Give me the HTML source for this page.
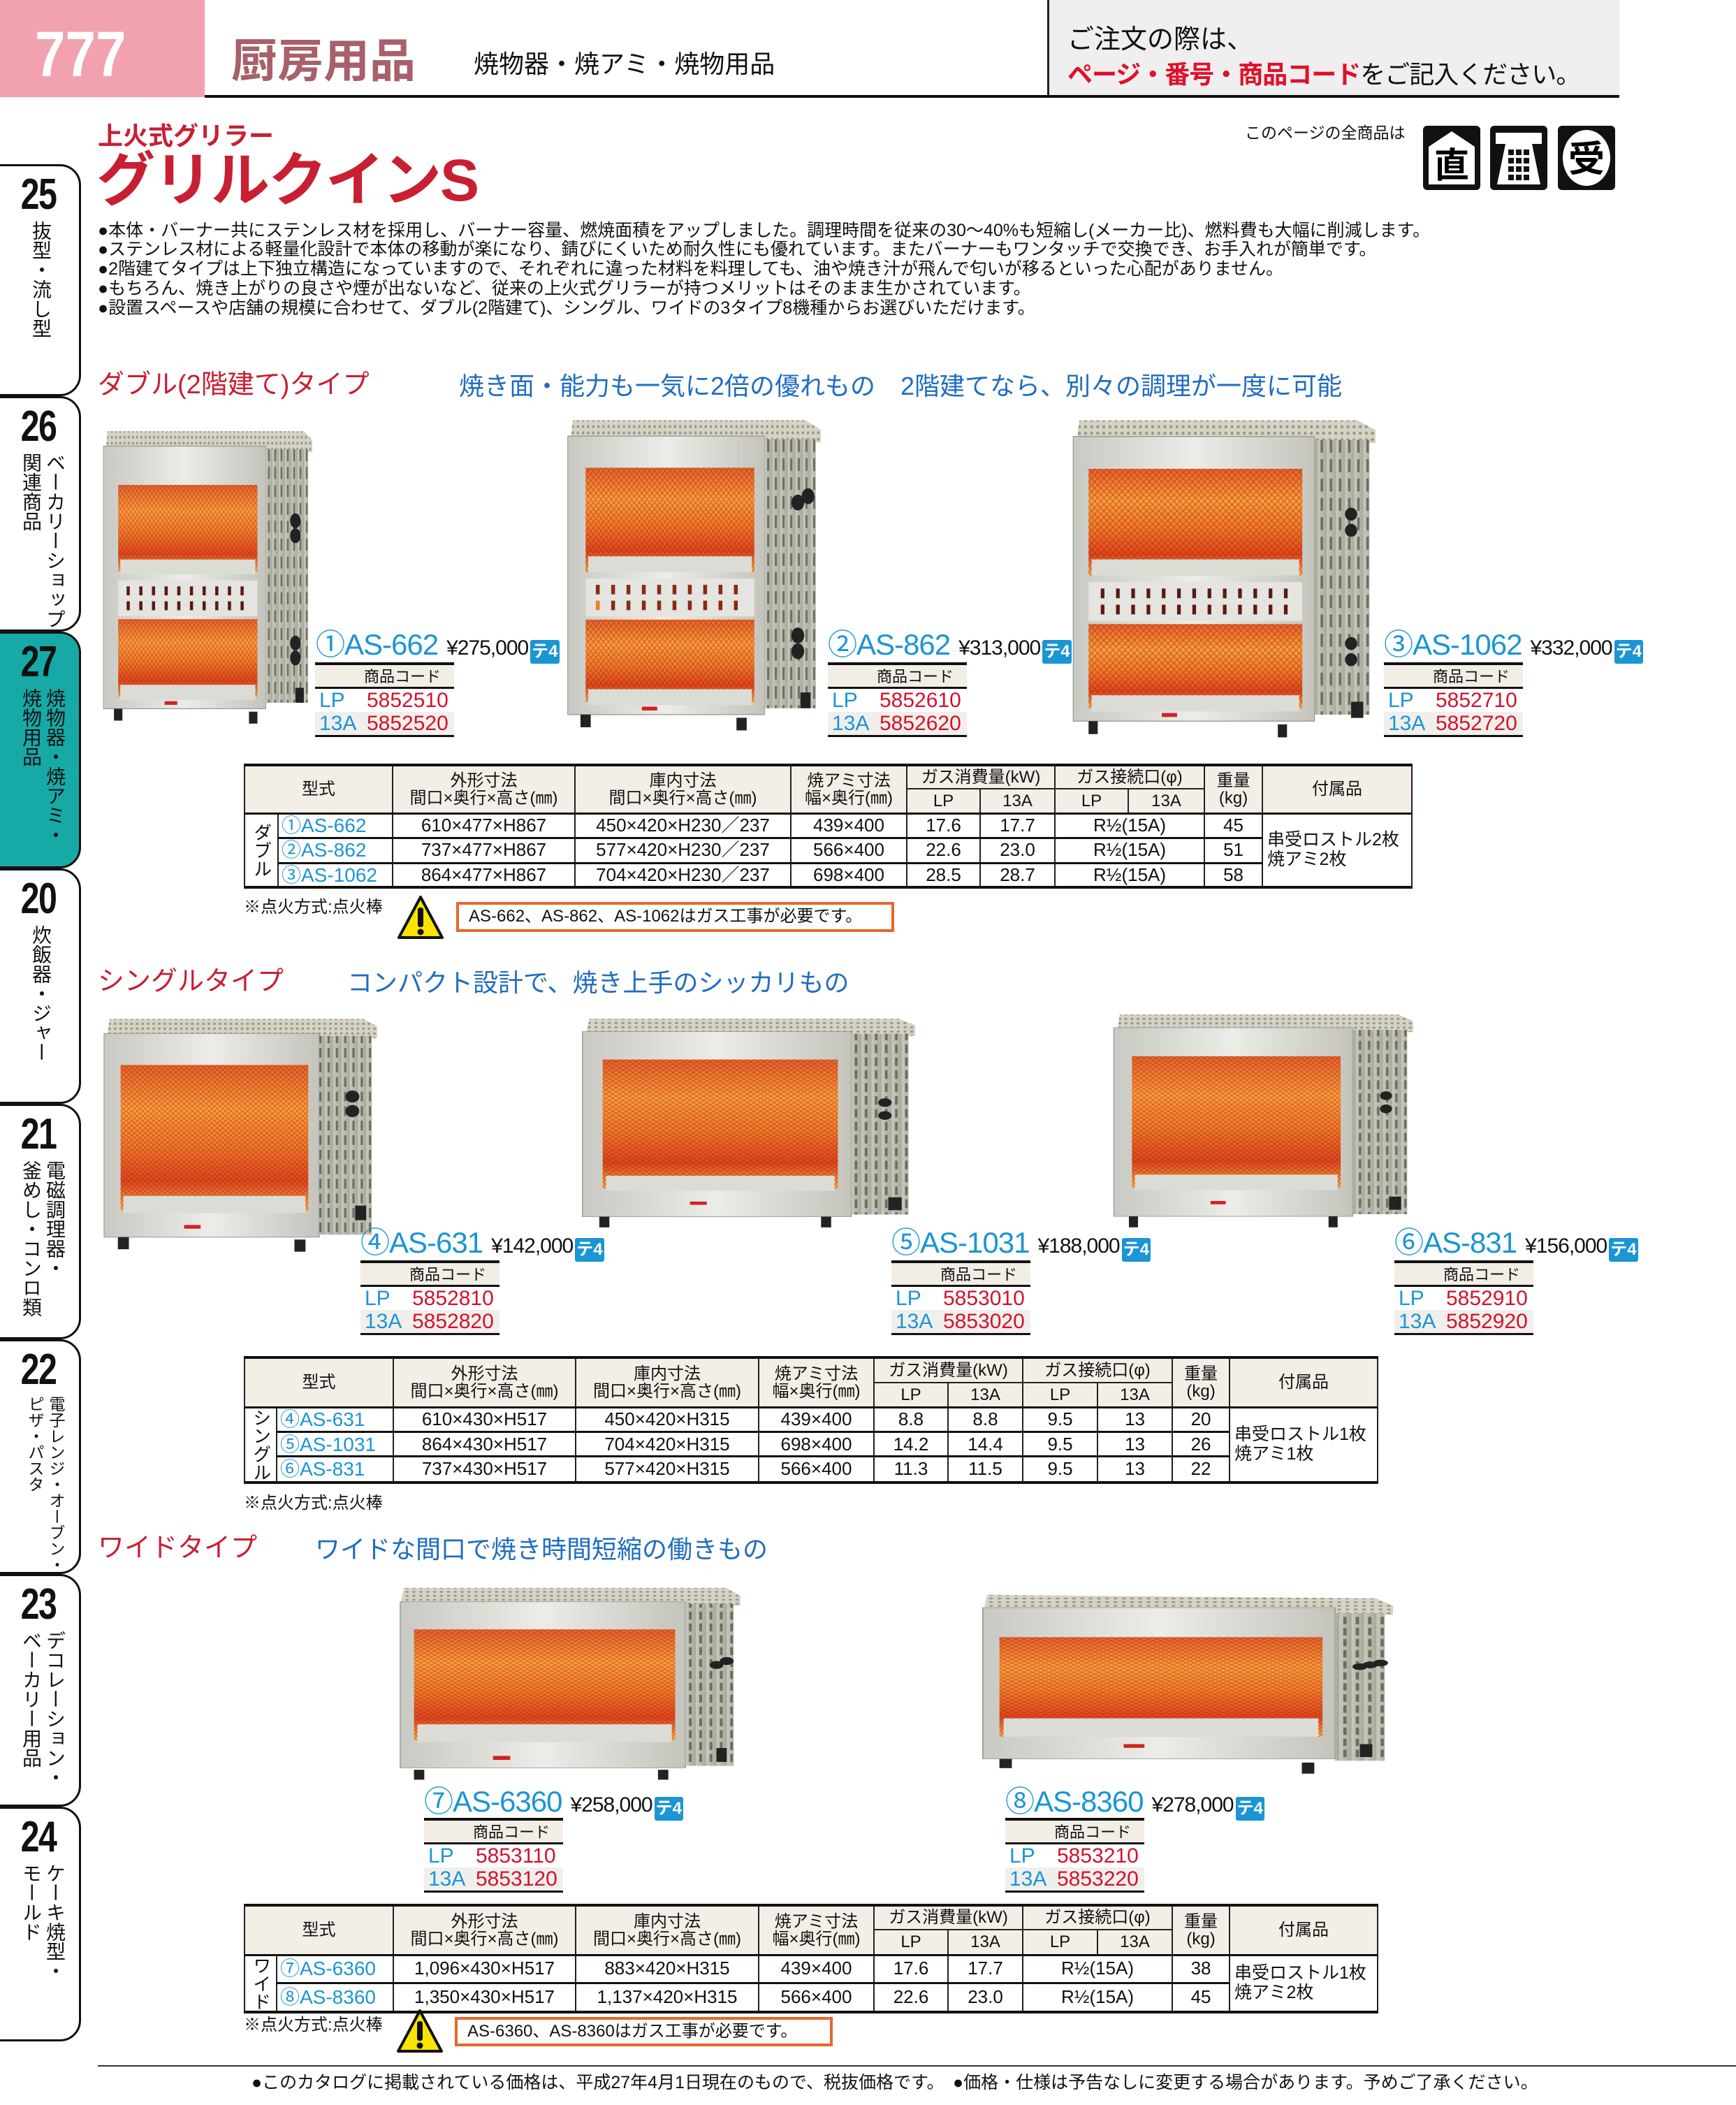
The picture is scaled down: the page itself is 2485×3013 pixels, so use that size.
<!DOCTYPE html>
<html><head><meta charset="utf-8">
<style>
*{margin:0;padding:0;box-sizing:border-box}
body{width:2485px;height:3013px;position:relative;background:#fff;font-family:"Liberation Sans","Noto Sans CJK JP",sans-serif;color:#111;overflow:hidden}
.a{position:absolute;white-space:nowrap}
.tab{position:absolute;left:-6px;width:122px;border:3px solid #111;border-radius:0 30px 30px 0;background:#fff}
.tab .n{position:absolute;top:10px;left:0;width:116px;text-align:center;font-weight:bold;font-size:62px;line-height:62px;transform:scaleX(.78);letter-spacing:-2px}
.tab .t{position:absolute;top:78px;right:18px;height:260px;writing-mode:vertical-rl;font-size:28px;line-height:34px;letter-spacing:0;white-space:nowrap}
.tab .t.s{right:38px}
.red{color:#c81f32}
.blue{color:#1f6dbf}
.bul{font-size:25px;line-height:28px;left:140px}
table.spec{position:absolute;border-collapse:collapse;table-layout:fixed;font-size:26px;border-top:4px solid #111;border-bottom:4px solid #111}
table.spec td{border:2px solid #222;text-align:center;padding:0;line-height:1.05;white-space:nowrap;overflow:hidden}
table.spec tr.h td{background:#f3efe6;font-size:24px}
table.spec tr.d td{border-top:3px solid #111}
table.spec td.m{color:#1b95d3;font-size:28px;text-align:left;padding-left:4px}
table.spec td.v{writing-mode:vertical-rl;font-size:26px}
table.spec td.acc{text-align:left;padding-left:6px;font-size:25px;line-height:1.1}
.lbl{position:absolute;white-space:nowrap;height:46px;line-height:46px}
.lbl .m{color:#1b95d3;font-size:42px;letter-spacing:-1px}
.lbl .p{font-size:30px;letter-spacing:-1px;margin-left:12px}
.lbl .b{display:inline-block;background:#1b95d3;color:#fff;font-size:24px;font-weight:bold;line-height:34px;height:34px;padding:0 2px;border-radius:3px;vertical-align:middle;margin-left:3px}
.code{position:absolute;width:199px;border-top:4px solid #111;border-bottom:3px solid #111}
.code .r1{height:34px;background:#f2eee6;border-bottom:3px solid #111;font-size:22px;line-height:34px;padding-left:70px}
.code .r2,.code .r3{height:33px;line-height:33px;font-size:30px;position:relative}
.code .r3{background:#f0efeb}
.code .k{position:absolute;left:6px;color:#1b95d3}
.code .c{position:absolute;left:74px;color:#d4122b}
.note{font-size:24px}
.warn{position:absolute;border:4px solid #e8672a;font-size:24px;line-height:34px;padding-left:14px;white-space:nowrap}
</style></head><body>

<svg width="0" height="0" style="position:absolute">
<defs>
<linearGradient id="steel" x1="0" y1="0" x2="1" y2="0"><stop offset="0" stop-color="#c9c9c3"/><stop offset=".5" stop-color="#ecece8"/><stop offset="1" stop-color="#c4c4bc"/></linearGradient>
<linearGradient id="side" x1="0" y1="0" x2="1" y2="0"><stop offset="0" stop-color="#c8c9bd"/><stop offset="1" stop-color="#a7a99b"/></linearGradient>
<linearGradient id="fire" x1="0" y1="0" x2="0" y2="1"><stop offset="0" stop-color="#e8622a"/><stop offset=".3" stop-color="#ff9c3c"/><stop offset=".55" stop-color="#f57a2a"/><stop offset=".8" stop-color="#e2451c"/><stop offset="1" stop-color="#ffb04a"/></linearGradient>
<pattern id="grid" width="2" height="2" patternUnits="userSpaceOnUse"><path d="M0 0L2 2M2 0L0 2" stroke="#8a2a10" stroke-width=".25" opacity=".5"/></pattern>
<pattern id="perf" width="2" height="2" patternUnits="userSpaceOnUse"><rect width="2" height="2" fill="#d6d3c4"/><circle cx="1" cy="1" r=".5" fill="#9a9788"/></pattern>
<pattern id="slots" width="3" height="6" patternUnits="userSpaceOnUse"><rect width="3" height="6" fill="url(#side)"/><rect x="1" y="1" width=".8" height="4" fill="#6d6e62"/></pattern>
</defs></svg>

<!-- header -->
<div class="a" style="left:0;top:0;width:293px;height:139px;background:#f1a2ae"></div>
<div class="a" style="left:50px;top:32px;font-size:92px;line-height:92px;font-weight:bold;color:#fff;transform:scaleX(.85);transform-origin:left">777</div>
<div class="a" style="left:331px;top:52px;font-size:66px;line-height:70px;font-weight:bold;color:#a8606a">厨房用品</div>
<div class="a" style="left:678px;top:72px;font-size:36px;line-height:40px">焼物器・焼アミ・焼物用品</div>
<div class="a" style="left:1501px;top:0;width:817px;height:139px;background:#efefef"></div>
<div class="a" style="left:1499px;top:0;width:3px;height:139px;background:#222"></div>
<div class="a" style="left:293px;top:136px;width:2025px;height:4px;background:#111"></div>
<div class="a" style="left:1528px;top:36px;font-size:38px;line-height:42px">ご注文の際は、</div>
<div class="a" style="left:1528px;top:86px;font-size:36px;line-height:42px;letter-spacing:-1px"><span style="color:#e0102a;font-weight:bold">ページ・番号・商品コード</span>をご記入ください。</div>

<!-- tabs -->
<div class="tab" style="top:235px;height:332px"><div class="n">25</div><div class="t s">抜型・流し型</div></div>
<div class="tab" style="top:567px;height:337px"><div class="n">26</div><div class="t">ベーカリーショップ<br>関連商品</div></div>
<div class="tab" style="top:904px;height:339px;background:#17a9a6"><div class="n">27</div><div class="t">焼物器・焼アミ・<br>焼物用品</div></div>
<div class="tab" style="top:1243px;height:337px"><div class="n">20</div><div class="t s">炊飯器・ジャー</div></div>
<div class="tab" style="top:1580px;height:337px"><div class="n">21</div><div class="t">電磁調理器・<br>釜めし・コンロ類</div></div>
<div class="tab" style="top:1917px;height:336px"><div class="n">22</div><div class="t" style="font-size:23px;line-height:30px">電子レンジ・オーブン・<br>ピザ・パスタ</div></div>
<div class="tab" style="top:2253px;height:333px"><div class="n">23</div><div class="t">デコレーション・<br>ベーカリー用品</div></div>
<div class="tab" style="top:2586px;height:336px"><div class="n">24</div><div class="t">ケーキ焼型・<br>モールド</div></div>

<!-- title -->
<div class="a red" style="left:140px;top:176px;font-size:36px;line-height:38px;font-weight:bold">上火式グリラー</div>
<div class="a red" style="left:138px;top:214px;font-size:84px;line-height:88px;font-weight:bold;letter-spacing:-2px">グリルクインS</div>
<div class="a" style="left:1782px;top:176px;font-size:23px;line-height:28px">このページの全商品は</div>
<svg class="a" style="left:2037px;top:180px" width="82" height="92" viewBox="0 0 82 92"><rect width="82" height="92" rx="6" fill="#111"/><path d="M8 30L41 8L74 30V84H8Z" fill="#fff"/><text x="41" y="74" font-size="50" text-anchor="middle" font-weight="bold" font-family="Noto Sans CJK JP">直</text></svg>
<svg class="a" style="left:2133px;top:180px" width="82" height="92" viewBox="0 0 82 92"><rect width="82" height="92" rx="6" fill="#111"/><path d="M8 10H74V26H60L72 84H10L22 26H8Z" fill="#fff"/><g fill="#111"><rect x="26" y="34" width="8" height="8"/><rect x="37" y="34" width="8" height="8"/><rect x="48" y="34" width="8" height="8"/><rect x="26" y="46" width="8" height="8"/><rect x="37" y="46" width="8" height="8"/><rect x="48" y="46" width="8" height="8"/><rect x="26" y="58" width="8" height="8"/><rect x="37" y="58" width="8" height="8"/><rect x="48" y="58" width="8" height="8"/><rect x="26" y="70" width="8" height="8"/><rect x="37" y="70" width="8" height="8"/><rect x="48" y="70" width="8" height="8"/></g></svg>
<svg class="a" style="left:2230px;top:180px" width="82" height="92" viewBox="0 0 82 92"><rect width="82" height="92" rx="6" fill="#111"/><ellipse cx="41" cy="46" rx="34" ry="40" fill="#fff"/><text x="41" y="66" font-size="52" text-anchor="middle" font-weight="bold" font-family="Noto Sans CJK JP">受</text></svg>

<div class="a bul" style="top:316px">●本体・バーナー共にステンレス材を採用し、バーナー容量、燃焼面積をアップしました。調理時間を従来の30～40%も短縮し(メーカー比)、燃料費も大幅に削減します。</div>
<div class="a bul" style="top:343px">●ステンレス材による軽量化設計で本体の移動が楽になり、錆びにくいため耐久性にも優れています。またバーナーもワンタッチで交換でき、お手入れが簡単です。</div>
<div class="a bul" style="top:371px">●2階建てタイプは上下独立構造になっていますので、それぞれに違った材料を料理しても、油や焼き汁が飛んで匂いが移るといった心配がありません。</div>
<div class="a bul" style="top:399px">●もちろん、焼き上がりの良さや煙が出ないなど、従来の上火式グリラーが持つメリットはそのまま生かされています。</div>
<div class="a bul" style="top:427px">●設置スペースや店舗の規模に合わせて、ダブル(2階建て)、シングル、ワイドの3タイプ8機種からお選びいただけます。</div>

<!-- section double -->
<div class="a red" style="left:140px;top:530px;font-size:38px;line-height:42px">ダブル(2階建て)タイプ</div>
<div class="a blue" style="left:657px;top:532px;font-size:36px;line-height:42px">焼き面・能力も一気に2倍の優れもの　2階建てなら、別々の調理が一度に可能</div>

<!-- double grills -->
<svg class="a" style="left:145px;top:613px" width="302" height="427" viewBox="0 0 100 100" preserveAspectRatio="none">
<polygon points="3,1 96,1 100,4 100,8 2,8" fill="url(#perf)"/><rect x="1" y="6" width="77" height="88" fill="url(#steel)" stroke="#999" stroke-width=".3"/><rect x="78" y="7" width="20" height="85" fill="url(#slots)"/>
<rect x="8" y="19" width="66" height="29" fill="url(#fire)"/><rect x="8" y="19" width="66" height="29" fill="url(#grid)"/><rect x="9" y="44" width="64" height="5" fill="#dcdcd6"/>
<rect x="8" y="51" width="66" height="12" fill="#e4e4e0"/><g fill="#5a1a10"><rect x="12" y="53" width="1.5" height="3"/><rect x="18" y="53" width="1.5" height="3"/><rect x="24" y="53" width="1.5" height="3"/><rect x="30" y="53" width="1.5" height="3"/><rect x="36" y="53" width="1.5" height="3"/><rect x="42" y="53" width="1.5" height="3"/><rect x="48" y="53" width="1.5" height="3"/><rect x="54" y="53" width="1.5" height="3"/><rect x="60" y="53" width="1.5" height="3"/><rect x="66" y="53" width="1.5" height="3"/><rect x="12" y="58" width="1.5" height="3"/><rect x="18" y="58" width="1.5" height="3"/><rect x="24" y="58" width="1.5" height="3"/><rect x="30" y="58" width="1.5" height="3"/><rect x="36" y="58" width="1.5" height="3"/><rect x="42" y="58" width="1.5" height="3"/><rect x="48" y="58" width="1.5" height="3"/><rect x="54" y="58" width="1.5" height="3"/><rect x="60" y="58" width="1.5" height="3"/><rect x="66" y="58" width="1.5" height="3"/></g>
<rect x="8" y="64" width="66" height="26" fill="url(#fire)"/><rect x="8" y="64" width="66" height="26" fill="url(#grid)"/><rect x="9" y="86" width="64" height="5" fill="#dcdcd6"/>
<rect x="30" y="91.5" width="6" height="1.2" fill="#d42020"/><rect x="6" y="94" width="4" height="4" fill="#222"/><rect x="70" y="95" width="4" height="4" fill="#222"/>
<g fill="#222"><circle cx="92" cy="31" r="2.5"/><circle cx="92" cy="36" r="2.5"/><circle cx="92" cy="72" r="2.5"/><circle cx="92" cy="77" r="2.5"/><rect x="92" y="87" width="4" height="5"/></g></svg>

<svg class="a" style="left:809px;top:597px" width="366" height="453" viewBox="0 0 100 100" preserveAspectRatio="none">
<polygon points="3,1 94,1 100,4 100,8 2,8" fill="url(#perf)"/><rect x="1" y="6" width="77" height="88" fill="url(#steel)" stroke="#999" stroke-width=".3"/><rect x="78" y="7" width="20" height="85" fill="url(#slots)"/>
<rect x="8" y="16" width="66" height="33" fill="url(#fire)"/><rect x="8" y="16" width="66" height="33" fill="url(#grid)"/><rect x="9" y="44" width="64" height="5" fill="#dcdcd6"/>
<rect x="8" y="51" width="66" height="12" fill="#e4e4e0"/><g fill="#8a2a10"><rect x="12" y="53" width="1.5" height="3"/><rect x="18" y="53" width="1.5" height="3"/><rect x="24" y="53" width="1.5" height="3"/><rect x="30" y="53" width="1.5" height="3"/><rect x="36" y="53" width="1.5" height="3"/><rect x="42" y="53" width="1.5" height="3"/><rect x="48" y="53" width="1.5" height="3"/><rect x="54" y="53" width="1.5" height="3"/><rect x="60" y="53" width="1.5" height="3"/><rect x="66" y="53" width="1.5" height="3"/><rect x="12" y="58" width="1.5" height="3" fill="#f08020"/><rect x="18" y="58" width="1.5" height="3"/><rect x="24" y="58" width="1.5" height="3"/><rect x="30" y="58" width="1.5" height="3"/><rect x="36" y="58" width="1.5" height="3"/><rect x="42" y="58" width="1.5" height="3"/><rect x="48" y="58" width="1.5" height="3"/><rect x="54" y="58" width="1.5" height="3"/><rect x="60" y="58" width="1.5" height="3"/><rect x="66" y="58" width="1.5" height="3"/></g>
<rect x="8" y="64" width="66" height="26" fill="url(#fire)"/><rect x="8" y="64" width="66" height="26" fill="url(#grid)"/><rect x="9" y="86" width="64" height="5" fill="#dcdcd6"/>
<rect x="30" y="91.5" width="6" height="1.2" fill="#d42020"/><rect x="6" y="94" width="4" height="4" fill="#222"/><rect x="67" y="95" width="4" height="4" fill="#222"/>
<g fill="#222"><circle cx="91" cy="27" r="2.5"/><circle cx="95" cy="25" r="2.5"/><circle cx="91" cy="69" r="2.5"/><circle cx="91" cy="74" r="2.5"/><rect x="92" y="87" width="4" height="5"/></g></svg>

<svg class="a" style="left:1532px;top:597px" width="437" height="463" viewBox="0 0 100 100" preserveAspectRatio="none">
<polygon points="3,1 94,1 100,4 100,8 2,8" fill="url(#perf)"/><rect x="1" y="6" width="79" height="88" fill="url(#steel)" stroke="#999" stroke-width=".3"/><rect x="80" y="7" width="18" height="85" fill="url(#slots)"/>
<rect x="6" y="16" width="70" height="33" fill="url(#fire)"/><rect x="6" y="16" width="70" height="33" fill="url(#grid)"/><rect x="7" y="44" width="68" height="5" fill="#dcdcd6"/>
<rect x="6" y="51" width="70" height="12" fill="#e4e4e0"/><g fill="#5a1a10"><rect x="10" y="53" width="1.2" height="3"/><rect x="15" y="53" width="1.2" height="3"/><rect x="20" y="53" width="1.2" height="3"/><rect x="25" y="53" width="1.2" height="3"/><rect x="30" y="53" width="1.2" height="3"/><rect x="35" y="53" width="1.2" height="3"/><rect x="40" y="53" width="1.2" height="3"/><rect x="45" y="53" width="1.2" height="3"/><rect x="50" y="53" width="1.2" height="3"/><rect x="55" y="53" width="1.2" height="3"/><rect x="60" y="53" width="1.2" height="3"/><rect x="65" y="53" width="1.2" height="3"/><rect x="70" y="53" width="1.2" height="3"/><rect x="10" y="58" width="1.2" height="3"/><rect x="15" y="58" width="1.2" height="3"/><rect x="20" y="58" width="1.2" height="3"/><rect x="25" y="58" width="1.2" height="3"/><rect x="30" y="58" width="1.2" height="3"/><rect x="35" y="58" width="1.2" height="3"/><rect x="40" y="58" width="1.2" height="3"/><rect x="45" y="58" width="1.2" height="3"/><rect x="50" y="58" width="1.2" height="3"/><rect x="55" y="58" width="1.2" height="3"/><rect x="60" y="58" width="1.2" height="3"/><rect x="65" y="58" width="1.2" height="3"/><rect x="70" y="58" width="1.2" height="3"/></g>
<rect x="6" y="64" width="70" height="26" fill="url(#fire)"/><rect x="6" y="64" width="70" height="26" fill="url(#grid)"/><rect x="7" y="86" width="68" height="5" fill="#dcdcd6"/>
<rect x="30" y="91.5" width="5" height="1.2" fill="#d42020"/><rect x="6" y="94" width="3" height="4" fill="#222"/><rect x="68" y="95" width="3" height="4" fill="#222"/>
<g fill="#222"><circle cx="92" cy="30" r="2"/><circle cx="92" cy="35" r="2"/><circle cx="92" cy="70" r="2"/><circle cx="92" cy="75" r="2"/><rect x="92" y="88" width="4" height="5"/></g></svg>

<!-- double labels -->
<div class="lbl" style="left:452px;top:900px"><span class="m">①AS-662</span><span class="p">¥275,000</span><span class="b">テ4</span></div>
<div class="code" style="left:451px;top:948px"><div class="r1">商品コード</div><div class="r2"><span class="k">LP</span><span class="c">5852510</span></div><div class="r3"><span class="k">13A</span><span class="c">5852520</span></div></div>
<div class="lbl" style="left:1185px;top:900px"><span class="m">②AS-862</span><span class="p">¥313,000</span><span class="b">テ4</span></div>
<div class="code" style="left:1185px;top:948px"><div class="r1">商品コード</div><div class="r2"><span class="k">LP</span><span class="c">5852610</span></div><div class="r3"><span class="k">13A</span><span class="c">5852620</span></div></div>
<div class="lbl" style="left:1981px;top:900px"><span class="m">③AS-1062</span><span class="p">¥332,000</span><span class="b">テ4</span></div>
<div class="code" style="left:1981px;top:948px"><div class="r1">商品コード</div><div class="r2"><span class="k">LP</span><span class="c">5852710</span></div><div class="r3"><span class="k">13A</span><span class="c">5852720</span></div></div>

<table class="spec" style="left:349px;top:1093px;width:1671px">
<colgroup><col style="width:48px"><col style="width:164px"><col style="width:261px"><col style="width:309px"><col style="width:166px"><col style="width:105px"><col style="width:107px"><col style="width:105px"><col style="width:109px"><col style="width:83px"><col style="width:214px"></colgroup>
<tr class="h" style="height:34px"><td colspan="2" rowspan="2">型式</td><td rowspan="2">外形寸法<br>間口×奥行×高さ(㎜)</td><td rowspan="2">庫内寸法<br>間口×奥行×高さ(㎜)</td><td rowspan="2">焼アミ寸法<br>幅×奥行(㎜)</td><td colspan="2">ガス消費量(kW)</td><td colspan="2">ガス接続口(φ)</td><td rowspan="2">重量<br>(kg)</td><td rowspan="2">付属品</td></tr>
<tr class="h" style="height:35px"><td>LP</td><td>13A</td><td>LP</td><td>13A</td></tr>
<tr class="d" style="height:35px"><td rowspan="3" class="v">ダブル</td><td class="m">①AS-662</td><td>610×477×H867</td><td>450×420×H230／237</td><td>439×400</td><td>17.6</td><td>17.7</td><td colspan="2">R½(15A)</td><td>45</td><td rowspan="3" class="acc">串受ロストル2枚<br>焼アミ2枚</td></tr>
<tr class="d" style="height:36px"><td class="m">②AS-862</td><td>737×477×H867</td><td>577×420×H230／237</td><td>566×400</td><td>22.6</td><td>23.0</td><td colspan="2">R½(15A)</td><td>51</td></tr>
<tr class="d" style="height:35px"><td class="m">③AS-1062</td><td>864×477×H867</td><td>704×420×H230／237</td><td>698×400</td><td>28.5</td><td>28.7</td><td colspan="2">R½(15A)</td><td>58</td></tr>
</table>
<div class="a note" style="left:349px;top:1278px">※点火方式:点火棒</div>
<svg class="a" style="left:568px;top:1281px" width="68" height="64" viewBox="0 0 68 64"><path d="M34 3L65 61H3Z" fill="#f7e400" stroke="#111" stroke-width="4" stroke-linejoin="round"/><rect x="30" y="18" width="8" height="28" rx="3" fill="#111"/><circle cx="34" cy="53" r="4.5" fill="#111"/></svg>
<div class="warn" style="left:653px;top:1291px;width:627px;height:43px">AS-662、AS-862、AS-1062はガス工事が必要です。</div>

<!-- single -->
<div class="a red" style="left:140px;top:1384px;font-size:38px;line-height:42px">シングルタイプ</div>
<div class="a blue" style="left:497px;top:1386px;font-size:36px;line-height:42px">コンパクト設計で、焼き上手のシッカリもの</div>

<svg class="a" style="left:145px;top:1455px" width="395" height="347" viewBox="0 0 100 100" preserveAspectRatio="none">
<polygon points="3,1 95,1 100,4 100,9 2,9" fill="url(#perf)"/><rect x="1" y="7" width="78" height="84" fill="url(#steel)" stroke="#999" stroke-width=".3"/><rect x="79" y="8" width="19" height="82" fill="url(#slots)"/>
<rect x="7" y="20" width="68" height="60" fill="url(#fire)"/><rect x="7" y="20" width="68" height="60" fill="url(#grid)"/><rect x="8" y="74" width="66" height="7" fill="#dcdcd6"/>
<rect x="30" y="86" width="6" height="1.5" fill="#d42020"/><rect x="6" y="91" width="4" height="5" fill="#222"/><rect x="70" y="92" width="4" height="5" fill="#222"/>
<g fill="#222"><circle cx="91" cy="33" r="2.5"/><circle cx="91" cy="39" r="2.5"/><rect x="92" y="78" width="4" height="6"/></g></svg>
<svg class="a" style="left:829px;top:1455px" width="481" height="308" viewBox="0 0 100 100" preserveAspectRatio="none">
<polygon points="3,1 95,1 100,4 100,9 2,9" fill="url(#perf)"/><rect x="1" y="7" width="80" height="86" fill="url(#steel)" stroke="#999" stroke-width=".3"/><rect x="81" y="8" width="17" height="84" fill="url(#slots)"/>
<rect x="7" y="20" width="70" height="60" fill="url(#fire)"/><rect x="7" y="20" width="70" height="60" fill="url(#grid)"/><rect x="8" y="74" width="68" height="7" fill="#dcdcd6"/>
<rect x="33" y="86" width="5" height="1.5" fill="#d42020"/><rect x="6" y="93" width="3" height="5" fill="#222"/><rect x="72" y="93" width="3" height="5" fill="#222"/>
<g fill="#222"><circle cx="91" cy="40" r="2"/><circle cx="91" cy="46" r="2"/><rect x="92" y="84" width="4" height="6"/></g></svg>
<svg class="a" style="left:1590px;top:1449px" width="433" height="314" viewBox="0 0 100 100" preserveAspectRatio="none">
<polygon points="3,1 95,1 100,4 100,9 2,9" fill="url(#perf)"/><rect x="1" y="7" width="79" height="86" fill="url(#steel)" stroke="#999" stroke-width=".3"/><rect x="80" y="8" width="18" height="84" fill="url(#slots)"/>
<rect x="7" y="20" width="69" height="60" fill="url(#fire)"/><rect x="7" y="20" width="69" height="60" fill="url(#grid)"/><rect x="8" y="74" width="67" height="7" fill="#dcdcd6"/>
<rect x="33" y="86" width="5" height="1.5" fill="#d42020"/><rect x="6" y="93" width="3" height="5" fill="#222"/><rect x="72" y="93" width="3" height="5" fill="#222"/>
<g fill="#222"><circle cx="91" cy="38" r="2"/><circle cx="91" cy="44" r="2"/><rect x="92" y="84" width="4" height="6"/></g></svg>

<div class="lbl" style="left:516px;top:1756px"><span class="m">④AS-631</span><span class="p">¥142,000</span><span class="b">テ4</span></div>
<div class="code" style="left:516px;top:1804px"><div class="r1">商品コード</div><div class="r2"><span class="k">LP</span><span class="c">5852810</span></div><div class="r3"><span class="k">13A</span><span class="c">5852820</span></div></div>
<div class="lbl" style="left:1276px;top:1756px"><span class="m">⑤AS-1031</span><span class="p">¥188,000</span><span class="b">テ4</span></div>
<div class="code" style="left:1276px;top:1804px"><div class="r1">商品コード</div><div class="r2"><span class="k">LP</span><span class="c">5853010</span></div><div class="r3"><span class="k">13A</span><span class="c">5853020</span></div></div>
<div class="lbl" style="left:1996px;top:1756px"><span class="m">⑥AS-831</span><span class="p">¥156,000</span><span class="b">テ4</span></div>
<div class="code" style="left:1996px;top:1804px"><div class="r1">商品コード</div><div class="r2"><span class="k">LP</span><span class="c">5852910</span></div><div class="r3"><span class="k">13A</span><span class="c">5852920</span></div></div>

<table class="spec" style="left:349px;top:1941px;width:1622px">
<colgroup><col style="width:46px"><col style="width:167px"><col style="width:261px"><col style="width:262px"><col style="width:165px"><col style="width:106px"><col style="width:107px"><col style="width:107px"><col style="width:107px"><col style="width:82px"><col style="width:212px"></colgroup>
<tr class="h" style="height:36px"><td colspan="2" rowspan="2">型式</td><td rowspan="2">外形寸法<br>間口×奥行×高さ(㎜)</td><td rowspan="2">庫内寸法<br>間口×奥行×高さ(㎜)</td><td rowspan="2">焼アミ寸法<br>幅×奥行(㎜)</td><td colspan="2">ガス消費量(kW)</td><td colspan="2">ガス接続口(φ)</td><td rowspan="2">重量<br>(kg)</td><td rowspan="2">付属品</td></tr>
<tr class="h" style="height:35px"><td>LP</td><td>13A</td><td>LP</td><td>13A</td></tr>
<tr class="d" style="height:35px"><td rowspan="3" class="v">シングル</td><td class="m">④AS-631</td><td>610×430×H517</td><td>450×420×H315</td><td>439×400</td><td>8.8</td><td>8.8</td><td>9.5</td><td>13</td><td>20</td><td rowspan="3" class="acc">串受ロストル1枚<br>焼アミ1枚</td></tr>
<tr class="d" style="height:35px"><td class="m">⑤AS-1031</td><td>864×430×H517</td><td>704×420×H315</td><td>698×400</td><td>14.2</td><td>14.4</td><td>9.5</td><td>13</td><td>26</td></tr>
<tr class="d" style="height:36px"><td class="m">⑥AS-831</td><td>737×430×H517</td><td>577×420×H315</td><td>566×400</td><td>11.3</td><td>11.5</td><td>9.5</td><td>13</td><td>22</td></tr>
</table>
<div class="a note" style="left:349px;top:2131px">※点火方式:点火棒</div>

<!-- wide -->
<div class="a red" style="left:140px;top:2195px;font-size:38px;line-height:42px">ワイドタイプ</div>
<div class="a blue" style="left:451px;top:2197px;font-size:36px;line-height:42px">ワイドな間口で焼き時間短縮の働きもの</div>

<svg class="a" style="left:568px;top:2270px" width="492" height="283" viewBox="0 0 100 100" preserveAspectRatio="none">
<polygon points="2,1 96,1 100,5 100,10 1,10" fill="url(#perf)"/><rect x="1" y="8" width="83" height="84" fill="url(#steel)" stroke="#999" stroke-width=".3"/><rect x="84" y="9" width="14" height="82" fill="url(#slots)"/>
<rect x="5" y="22" width="76" height="56" fill="url(#fire)"/><rect x="5" y="22" width="76" height="56" fill="url(#grid)"/><rect x="6" y="70" width="74" height="9" fill="#dcdcd6"/>
<rect x="28" y="86" width="5" height="2" fill="#d42020"/><rect x="5" y="93" width="3" height="5" fill="#222"/><rect x="76" y="93" width="3" height="5" fill="#222"/>
<g fill="#222"><circle cx="93" cy="40" r="2"/><circle cx="96" cy="38" r="2"/><rect x="93" y="82" width="3" height="7"/></g></svg>
<svg class="a" style="left:1401px;top:2280px" width="593" height="264" viewBox="0 0 100 100" preserveAspectRatio="none">
<polygon points="2,1 96,3 100,7 100,12 1,12" fill="url(#perf)"/><rect x="1" y="8" width="85" height="82" fill="url(#steel)" stroke="#999" stroke-width=".3"/><rect x="86" y="11" width="12" height="80" fill="url(#slots)"/>
<rect x="5" y="24" width="78" height="54" fill="url(#fire)"/><rect x="5" y="24" width="78" height="54" fill="url(#grid)"/><rect x="6" y="68" width="76" height="10" fill="#dcdcd6"/>
<rect x="35" y="82" width="5" height="2" fill="#d42020"/><rect x="5" y="90" width="3" height="5" fill="#222"/><rect x="78" y="92" width="3" height="6" fill="#222"/>
<g fill="#222"><circle cx="92" cy="40" r="1.8"/><circle cx="94.5" cy="39" r="1.8"/><circle cx="97" cy="38" r="1.8"/><rect x="92" y="82" width="3" height="7"/></g></svg>

<div class="lbl" style="left:607px;top:2556px"><span class="m">⑦AS-6360</span><span class="p">¥258,000</span><span class="b">テ4</span></div>
<div class="code" style="left:607px;top:2602px"><div class="r1">商品コード</div><div class="r2"><span class="k">LP</span><span class="c">5853110</span></div><div class="r3"><span class="k">13A</span><span class="c">5853120</span></div></div>
<div class="lbl" style="left:1439px;top:2556px"><span class="m">⑧AS-8360</span><span class="p">¥278,000</span><span class="b">テ4</span></div>
<div class="code" style="left:1439px;top:2602px"><div class="r1">商品コード</div><div class="r2"><span class="k">LP</span><span class="c">5853210</span></div><div class="r3"><span class="k">13A</span><span class="c">5853220</span></div></div>

<table class="spec" style="left:349px;top:2725px;width:1622px">
<colgroup><col style="width:46px"><col style="width:167px"><col style="width:261px"><col style="width:262px"><col style="width:165px"><col style="width:106px"><col style="width:107px"><col style="width:107px"><col style="width:107px"><col style="width:82px"><col style="width:212px"></colgroup>
<tr class="h" style="height:35px"><td colspan="2" rowspan="2">型式</td><td rowspan="2">外形寸法<br>間口×奥行×高さ(㎜)</td><td rowspan="2">庫内寸法<br>間口×奥行×高さ(㎜)</td><td rowspan="2">焼アミ寸法<br>幅×奥行(㎜)</td><td colspan="2">ガス消費量(kW)</td><td colspan="2">ガス接続口(φ)</td><td rowspan="2">重量<br>(kg)</td><td rowspan="2">付属品</td></tr>
<tr class="h" style="height:36px"><td>LP</td><td>13A</td><td>LP</td><td>13A</td></tr>
<tr class="d" style="height:35px"><td rowspan="2" class="v">ワイド</td><td class="m">⑦AS-6360</td><td>1,096×430×H517</td><td>883×420×H315</td><td>439×400</td><td>17.6</td><td>17.7</td><td colspan="2">R½(15A)</td><td>38</td><td rowspan="2" class="acc">串受ロストル1枚<br>焼アミ2枚</td></tr>
<tr class="d" style="height:36px"><td class="m">⑧AS-8360</td><td>1,350×430×H517</td><td>1,137×420×H315</td><td>566×400</td><td>22.6</td><td>23.0</td><td colspan="2">R½(15A)</td><td>45</td></tr>
</table>
<div class="a note" style="left:349px;top:2878px">※点火方式:点火棒</div>
<svg class="a" style="left:567px;top:2875px" width="68" height="64" viewBox="0 0 68 64"><path d="M34 3L65 61H3Z" fill="#f7e400" stroke="#111" stroke-width="4" stroke-linejoin="round"/><rect x="30" y="18" width="8" height="28" rx="3" fill="#111"/><circle cx="34" cy="53" r="4.5" fill="#111"/></svg>
<div class="warn" style="left:651px;top:2887px;width:541px;height:42px">AS-6360、AS-8360はガス工事が必要です。</div>

<!-- footer -->
<div class="a" style="left:140px;top:2956px;width:2345px;height:2px;background:#333"></div>
<div class="a" style="left:360px;top:2966px;font-size:25px;line-height:30px">●このカタログに掲載されている価格は、平成27年4月1日現在のもので、税抜価格です。　●価格・仕様は予告なしに変更する場合があります。予めご了承ください。</div>
</body></html>
